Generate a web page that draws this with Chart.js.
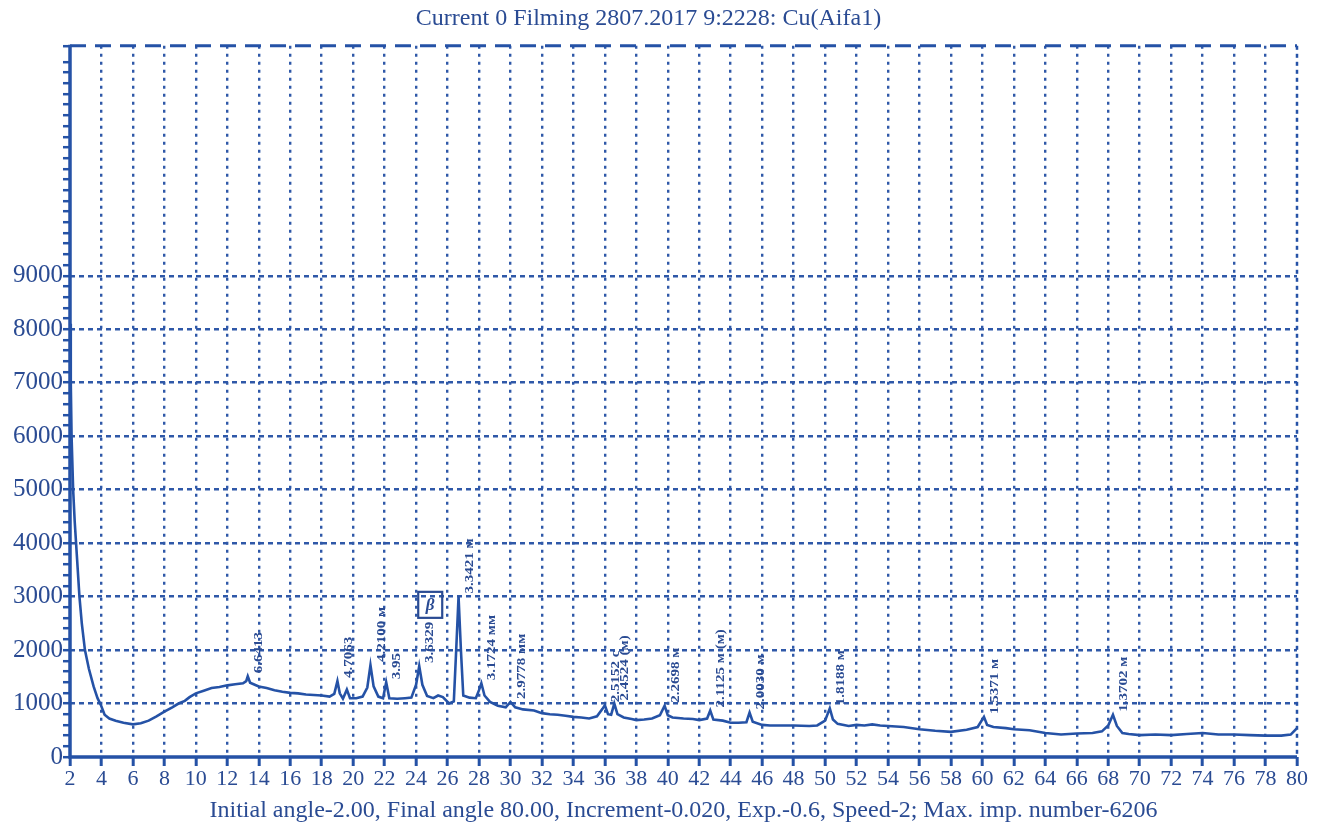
<!DOCTYPE html>
<html>
<head>
<meta charset="utf-8">
<script src="https://cdn.jsdelivr.net/npm/chart.js@4.4.1/dist/chart.umd.min.js"></script>
<style>
  html, body { margin: 0; padding: 0; background: #ffffff; }
  #wrap { width: 1323px; height: 825px; position: relative; }
</style>
</head>
<body>
<div id="wrap"><canvas id="xrd"></canvas></div>
<script>
// Diffraction angle (2θ, degrees) and intensity (counts) of the scan
const angles = [
  2.00, 2.05, 2.10, 2.20, 2.30, 2.45, 2.60, 2.75, 2.95, 3.20, 3.50, 3.75, 3.95, 4.20, 4.50, 4.90,
  5.40, 6.00, 6.50, 7.00, 7.50, 8.00, 8.50, 8.90, 9.30, 9.60, 10.0, 10.5, 11.0, 11.5, 12.0, 12.5,
  13.0, 13.2, 13.3, 13.45, 14.0, 14.5, 15.0, 15.5, 16.0, 16.5, 17.0, 17.5, 18.0, 18.5, 18.8, 19.0,
  19.15, 19.35, 19.6, 19.8, 20.2, 20.6, 20.9, 21.1, 21.3, 21.6, 21.9, 22.1, 22.3, 22.8, 23.3, 23.7,
  24.0, 24.2, 24.4, 24.7, 25.1, 25.4, 25.7, 26.1, 26.4, 26.55, 26.7, 26.85, 27.0, 27.4, 27.8, 28.0,
  28.15, 28.35, 28.7, 29.2, 29.7, 30.0, 30.3, 30.8, 31.5, 32.0, 32.5, 33.0, 33.5, 34.0, 34.5, 35.0,
  35.5, 35.85, 36.0, 36.2, 36.4, 36.6, 36.8, 37.2, 37.7, 38.0, 38.5, 39.0, 39.5, 39.8, 40.0, 40.3,
  41.0, 41.6, 42.0, 42.5, 42.7, 42.9, 43.5, 44.0, 44.5, 45.0, 45.2, 45.4, 46.0, 46.5, 47.0, 48.0,
  48.5, 49.0, 49.5, 50.0, 50.3, 50.5, 50.8, 51.5, 52.0, 52.5, 53.0, 53.5, 54.0, 55.0, 56.0, 57.0,
  58.0, 59.0, 59.7, 60.1, 60.3, 60.7, 61.5, 62.0, 63.0, 64.0, 65.0, 66.0, 67.0, 67.6, 68.0, 68.3,
  68.55, 68.9, 69.3, 70.0, 71.0, 72.0, 73.0, 74.0, 75.0, 76.0, 77.0, 78.0, 79.0, 79.6, 80.0
];
const counts = [
  8100, 7000, 6000, 5000, 4400, 3700, 3000, 2500, 2000, 1650, 1320, 1100, 980, 790, 720, 680,
  640, 610, 630, 680, 760, 850, 930, 1000, 1050, 1120, 1190, 1240, 1290, 1310, 1340, 1360,
  1380, 1420, 1510, 1390, 1320, 1290, 1250, 1220, 1200, 1190, 1170, 1160, 1150, 1130, 1180, 1420,
  1190, 1090, 1260, 1100, 1100, 1130, 1300, 1720, 1320, 1130, 1100, 1400, 1100, 1090, 1100, 1110,
  1350, 1700, 1350, 1140, 1100, 1150, 1120, 1000, 1040, 2000, 3000, 2000, 1150, 1110, 1100, 1250,
  1380, 1150, 1030, 960, 930, 1030, 930, 890, 870, 820, 800, 790, 770, 750, 740, 720,
  760, 900, 970, 800, 790, 1000, 800, 740, 710, 690, 700, 720, 780, 960, 780, 740,
  720, 710, 690, 720, 870, 700, 680, 640, 640, 650, 830, 660, 600, 590, 590, 590,
  585, 580, 590, 680, 910, 700, 620, 580, 600, 590, 610, 590, 580, 560, 520, 490,
  470, 510, 560, 750, 600, 560, 540, 520, 500, 450, 420, 440, 450, 480, 590, 790,
  580, 450, 430, 410, 420, 410, 430, 450, 420, 420, 410, 400, 400, 420, 540
];

// Indexed reflections: position, height and interplanar spacing note
const peakAngles = [13.3, 19.0, 21.1, 22.1, 24.2, 26.7, 28.15, 30.0, 36.0, 36.6, 39.8, 42.7, 45.2, 50.3, 60.1, 68.3];
const peakCounts = [1510, 1420, 1720, 1400, 1700, 3000, 1380, 1030, 970, 1000, 960, 870, 830, 910, 750, 790];
const peakLabels = [
  '6.6413', '4.7063', '4.2100 м', '3.95', '3.6329', '3.3421 м', '3.1724 мм', '2.9778 мм',
  '2.5152 с', '2.4524 (м)', '2.2698 м', '2.1125 м (м)', '2.0030 м', '1.8188 м', '1.5371 м', '1.3702 м'
];
const phaseMark = 'β';
const phaseMarkPeak = 4;

// Axis ticks
const xTickStep = 2;
const yMajorStep = 1000;
const yMinorStep = 200;
const yLabelMax = 9000;

const titleText = 'Current 0 Filming 2807.2017 9:2228: Cu(Aifa1)';
const footerText = 'Initial angle-2.00, Final angle 80.00, Increment-0.020, Exp.-0.6, Speed-2; Max. imp. number-6206';

const INK = '#2a4b93';
const LINE = '#2552a6';
const GRID = '#2f58a8';
const SERIF = '"Liberation Serif", "Times New Roman", serif';

// Recorder frame: solid axes on the left and bottom, dashed edges top and right
const framePlugin = {
  id: 'recorderFrame',
  beforeDatasetsDraw(chart) {
    const { ctx, chartArea: a } = chart;
    ctx.save();
    ctx.strokeStyle = LINE;
    ctx.lineCap = 'butt';
    ctx.lineWidth = 3;
    ctx.setLineDash([16, 9]);
    ctx.beginPath(); ctx.moveTo(a.left, a.top); ctx.lineTo(a.right, a.top); ctx.stroke();
    ctx.lineWidth = 2.5;
    ctx.setLineDash([4, 4]);
    ctx.beginPath(); ctx.moveTo(a.right, a.top); ctx.lineTo(a.right, a.bottom); ctx.stroke();
    ctx.setLineDash([]);
    ctx.lineWidth = 3.5;
    ctx.beginPath();
    ctx.moveTo(a.left, a.top - 1); ctx.lineTo(a.left, a.bottom); ctx.lineTo(a.right, a.bottom);
    ctx.stroke();
    ctx.restore();
  }
};

// Rotated d-spacing notes above each reflection
const peakNotesPlugin = {
  id: 'peakNotes',
  afterDatasetsDraw(chart) {
    const { ctx, scales: { x, y } } = chart;
    ctx.save();
    ctx.fillStyle = INK;
    ctx.strokeStyle = INK;
    ctx.font = 'bold 12px ' + SERIF;
    const stretch = 1.25;
    peakAngles.forEach((ang, i) => {
      const px = x.getPixelForValue(ang) + 11;
      const py = y.getPixelForValue(peakCounts[i]) - 3;
      const w = ctx.measureText(peakLabels[i]).width * stretch;
      ctx.save();
      ctx.translate(px, py);
      ctx.rotate(-Math.PI / 2);
      ctx.scale(stretch, 1);
      ctx.textAlign = 'left';
      ctx.textBaseline = 'middle';
      ctx.fillText(peakLabels[i], 0, 0);
      ctx.restore();
      if (i === phaseMarkPeak) {
        const bw = 24, bh = 26;
        const bx = px - bw / 2, by = py - w - 4 - bh;
        ctx.lineWidth = 2.2;
        ctx.strokeRect(bx, by, bw, bh);
        ctx.save();
        ctx.font = 'italic bold 17px ' + SERIF;
        ctx.textAlign = 'center';
        ctx.textBaseline = 'middle';
        ctx.fillText(phaseMark, bx + bw / 2, by + bh / 2 + 1);
        ctx.restore();
      }
    });
    ctx.restore();
  }
};

const points = angles.map((a, i) => ({ x: a, y: counts[i] }));

new Chart(document.getElementById('xrd'), {
  type: 'line',
  data: {
    datasets: [{
      data: points,
      borderColor: LINE,
      borderWidth: 2.6,
      pointRadius: 0,
      tension: 0,
      fill: false
    }]
  },
  options: {
    responsive: true,
    maintainAspectRatio: false,
    animation: false,
    layout: { padding: { left: 0, right: 26, top: 0, bottom: 0 } },
    plugins: {
      legend: { display: false },
      tooltip: { enabled: false },
      title: {
        display: true,
        text: titleText,
        color: INK,
        font: { family: SERIF, size: 24, weight: 'normal' },
        padding: { top: 4, bottom: 13 }
      }
    },
    scales: {
      x: {
        type: 'linear',
        min: 2,
        max: 80,
        afterFit(scale) { scale.height = 68; },
        border: { display: false, dash: [3, 5] },
        grid: {
          color: c => (c.tick && (c.tick.value === 2 || c.tick.value === 80)) ? 'rgba(0,0,0,0)' : GRID,
          lineWidth: 2.4,
          drawTicks: true,
          tickLength: 9,
          tickWidth: 3,
          tickColor: LINE,
          tickBorderDash: []
        },
        ticks: {
          stepSize: xTickStep,
          autoSkip: false,
          maxRotation: 0,
          padding: 0,
          color: INK,
          font: { family: SERIF, size: 22 }
        },
        title: {
          display: true,
          text: footerText,
          color: INK,
          font: { family: SERIF, size: 24 },
          padding: { top: 3, bottom: 0 }
        }
      },
      y: {
        type: 'linear',
        min: 0,
        max: 13300,
        afterFit(scale) { scale.width = 70; },
        border: { display: false, dash: [5, 4] },
        grid: {
          color: c => {
            const v = c.tick ? c.tick.value : 0;
            return (v > 0 && v <= yLabelMax && v % yMajorStep === 0) ? GRID : 'rgba(0,0,0,0)';
          },
          lineWidth: 2.4,
          drawTicks: true,
          tickLength: 7,
          tickWidth: 2.5,
          tickColor: LINE,
          tickBorderDash: []
        },
        ticks: {
          stepSize: yMinorStep,
          autoSkip: false,
          padding: 0,
          color: INK,
          font: { family: SERIF, size: 25 },
          callback: v => (v % yMajorStep === 0 && v <= yLabelMax) ? String(v) : ''
        }
      }
    }
  },
  plugins: [framePlugin, peakNotesPlugin]
});
</script>
</body>
</html>
